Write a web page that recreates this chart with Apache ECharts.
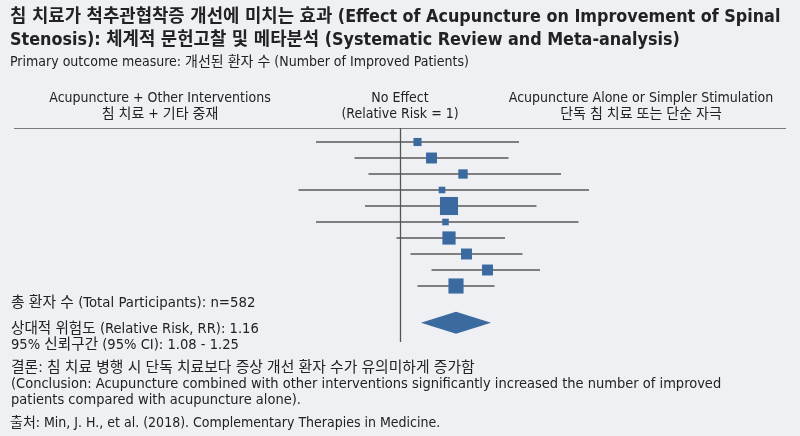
<!DOCTYPE html>
<html style="height: 100%">
<head>
  <meta charset="utf-8" />
  <title>침 치료 메타분석</title>
  <script src="https://cdn.jsdelivr.net/npm/echarts@6/dist/echarts.min.js"></script>
</head>
<body style="height: 100%; margin: 0; overflow: hidden; background: #eef0f3">
  <div id="container" style="height: 100%; width: 100%"></div>
  <script>
    // 개별 연구 (상대적 위험도, 95% CI) - 그림에서 읽은 값
    var studyLow = [0.76, 0.87, 0.91, 0.71, 0.90, 0.76, 0.99, 1.03, 1.09, 1.05];
    var studyRR = [1.05, 1.09, 1.18, 1.12, 1.14, 1.13, 1.14, 1.19, 1.25, 1.16];
    var studyHigh = [1.34, 1.31, 1.46, 1.54, 1.39, 1.51, 1.30, 1.35, 1.40, 1.27];
    var studyWeight = [6, 11, 8, 4, 30, 4, 16, 11, 11, 21];
    // 통합 추정치
    var pooled = [1.06, 1.16, 1.26];
    var pooledRow = 11.3;

    var FONT = "'Liberation Sans Narrow', 'DejaVu Sans Condensed', Roboto, 'Noto Sans CJK KR'";
    var dom = document.getElementById("container");
    var myChart = echarts.init(dom, null, { renderer: "canvas" });

    var ciData = studyLow.map((lo, i) => [lo, studyHigh[i], i]);
    var pointData = studyRR.map((v, i) => [v, i, studyWeight[i]]);

    function addText(arr, text, x, y, size, align, weight) {
      arr.push({
        type: "text", x: x, y: y,
        style: {
          text: text, fill: "#222", fontSize: size, fontFamily: FONT,
          textVerticalAlign: "middle", textAlign: align || "left",
          fontWeight: weight || "normal",
        },
      });
    }

    var g = [];
    addText(g, "침 치료가 척추관협착증 개선에 미치는 효과 (Effect of Acupuncture on Improvement of Spinal", 10, 17, 17.8, "left", "bold");
    addText(g, "Stenosis): 체계적 문헌고찰 및 메타분석 (Systematic Review and Meta-analysis)", 10, 40, 17.8, "left", "bold");
    addText(g, "Primary outcome measure: 개선된 환자 수 (Number of Improved Patients)", 10, 62, 14);
    addText(g, "Acupuncture + Other Interventions", 160, 98, 14, "center");
    addText(g, "침 치료 + 기타 중재", 160, 114, 14, "center");
    addText(g, "No Effect", 400, 98, 14, "center");
    addText(g, "(Relative Risk = 1)", 400, 114, 14, "center");
    addText(g, "Acupuncture Alone or Simpler Stimulation", 641, 98, 14, "center");
    addText(g, "단독 침 치료 또는 단순 자극", 641, 114, 14, "center");
    addText(g, "총 환자 수 (Total Participants): n=582", 11, 303, 14.8);
    addText(g, "상대적 위험도 (Relative Risk, RR): 1.16", 11, 329, 14.6);
    addText(g, "95% 신뢰구간 (95% CI): 1.08 - 1.25", 11, 345, 14.6);
    addText(g, "결론: 침 치료 병행 시 단독 치료보다 증상 개선 환자 수가 유의미하게 증가함", 11, 368, 14.8);
    addText(g, "(Conclusion: Acupuncture combined with other interventions significantly increased the number of improved", 11, 384, 14.5);
    addText(g, "patients compared with acupuncture alone).", 11, 400, 14.5);
    addText(g, "출처: Min, J. H., et al. (2018). Complementary Therapies in Medicine.", 10, 423, 14);
    g.push({
      type: "line",
      shape: { x1: 14, y1: 128.5, x2: 786, y2: 128.5 },
      style: { stroke: "#7a7a7a", lineWidth: 1.2 },
    });

    var option = {
      backgroundColor: "#eef0f3",
      animation: false,
      grid: { left: 50, width: 700, top: 126, height: 224 },
      xAxis: { type: "value", min: 0, max: 2, show: false },
      yAxis: { type: "value", min: -1, max: 13, inverse: true, show: false },
      graphic: g,
      series: [
        {
          type: "custom",
          data: ciData,
          encode: { x: [0, 1], y: 2 },
          renderItem: function (params, api) {
            var a = api.coord([api.value(0), api.value(2)]);
            var b = api.coord([api.value(1), api.value(2)]);
            return {
              type: "line",
              shape: { x1: a[0], y1: a[1], x2: b[0], y2: b[1] },
              style: { stroke: "#5a5a5a", lineWidth: 1.3 },
            };
          },
          z: 2,
        },
        {
          type: "scatter",
          data: pointData,
          symbol: "rect",
          symbolSize: function (d) { return Math.sqrt(d[2]) * 3.3; },
          itemStyle: { color: "#3b6aa0", opacity: 1 },
          z: 3,
          markLine: {
            silent: true,
            symbol: "none",
            label: { show: false },
            lineStyle: { color: "#555", width: 1.3, type: "solid" },
            data: [[{ coord: [1, -0.875] }, { coord: [1, 12.5] }]],
          },
        },
        {
          type: "custom",
          data: [[pooled[0], pooled[1], pooled[2], pooledRow]],
          encode: { x: [0, 1, 2], y: 3 },
          renderItem: function (params, api) {
            var lo = api.coord([api.value(0), api.value(3)]);
            var mid = api.coord([api.value(1), api.value(3)]);
            var hi = api.coord([api.value(2), api.value(3)]);
            var h = 11;
            return {
              type: "polygon",
              shape: { points: [[lo[0], lo[1]], [mid[0], mid[1] - h], [hi[0], hi[1]], [mid[0], mid[1] + h]] },
              style: { fill: "#3b6aa0" },
            };
          },
          z: 3,
        },
      ],
    };
    myChart.setOption(option);
    window.addEventListener("resize", myChart.resize);
  </script>
</body>
</html>
